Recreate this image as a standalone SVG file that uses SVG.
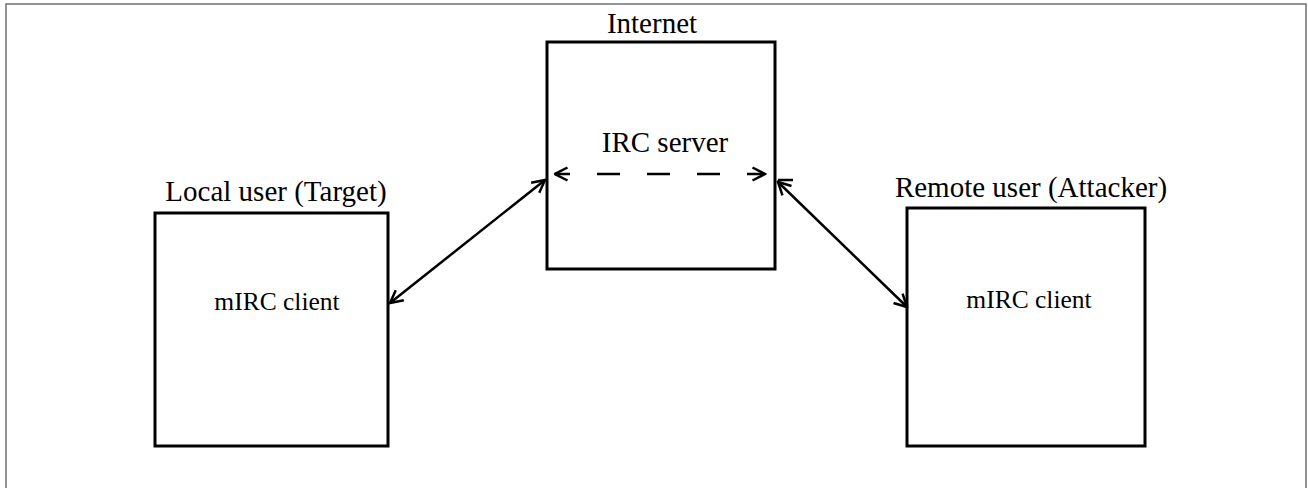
<svg xmlns="http://www.w3.org/2000/svg" width="1308" height="488" viewBox="0 0 1308 488">
  <style>
    .box { fill: #ffffff; stroke: #000000; stroke-width: 3; }
    .lbl { font-family: "Liberation Serif", "Times New Roman", serif; font-size: 29px; fill: #000000; text-anchor: middle; }
    .inner { font-family: "Liberation Serif", "Times New Roman", serif; font-size: 25.5px; fill: #000000; text-anchor: middle; }
    .conn { fill: none; stroke: #000000; stroke-width: 2.5; }
    .frame { fill: none; stroke: #707070; stroke-width: 1.5; }
  </style>
  <defs>
    <marker id="arr" viewBox="0 0 16 16" refX="14.5" refY="8" markerWidth="16" markerHeight="16" markerUnits="userSpaceOnUse" orient="auto-start-reverse">
      <path d="M2,1.5 L14.5,8 L2,14.5" fill="none" stroke="#000000" stroke-width="2.5"/>
    </marker>
  </defs>
  <rect width="1308" height="488" fill="#ffffff"/>
  <path class="frame" d="M6,488 V4 H1306 V488"/>

  <g id="internet">
    <rect class="box" x="547" y="42" width="228" height="227"/>
    <text class="lbl" x="652" y="33">Internet</text>
    <text class="lbl" x="665" y="152">IRC server</text>
  </g>
  <g id="local-user">
    <rect class="box" x="155" y="213" width="233" height="233"/>
    <text class="lbl" x="276" y="201">Local user (Target)</text>
    <text class="inner" x="277" y="310">mIRC client</text>
  </g>
  <g id="remote-user">
    <rect class="box" x="907" y="208" width="238" height="238"/>
    <text class="lbl" x="1031" y="197">Remote user (Attacker)</text>
    <text class="inner" x="1029" y="308">mIRC client</text>
  </g>

  <g id="connectors">
    <line class="conn" x1="390" y1="303" x2="545" y2="180" marker-start="url(#arr)" marker-end="url(#arr)"/>
    <line class="conn" x1="778" y1="182" x2="907" y2="307" marker-start="url(#arr)" marker-end="url(#arr)"/>
    <line class="conn" x1="555" y1="174" x2="765" y2="174" stroke-dasharray="23 27" stroke-dashoffset="8" marker-start="url(#arr)" marker-end="url(#arr)"/>
    <line class="conn" x1="778" y1="180" x2="793" y2="180"/>
  </g>
</svg>
